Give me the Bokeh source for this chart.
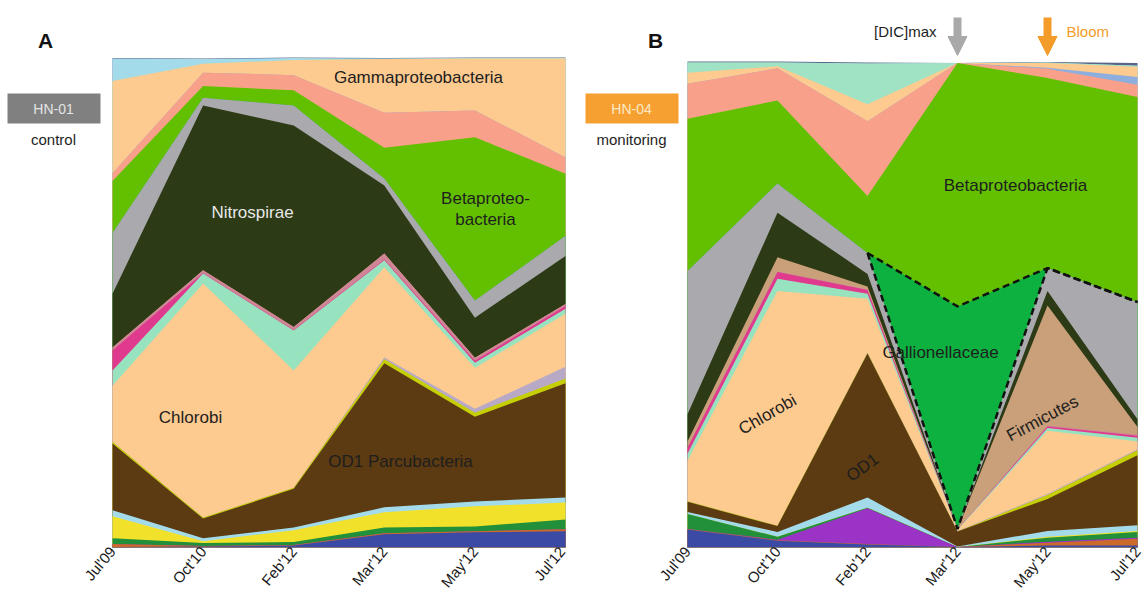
import numpy as np
from bokeh.plotting import figure
from bokeh.layouts import row
from bokeh.models import Range1d, FixedTicker, Label, BoxAnnotation, Arrow, NormalHead
from bokeh.embed import file_html
from bokeh.resources import INLINE

# ---------------- data ----------------
dates = ["Jul'09", "Oct'10", "Feb'12", "Mar'12", "May'12", "Jul'12"]

# layers, bottom -> top (relative abundance, %)
layer_names = ["blue", "orange", "purple", "green", "yellow", "lightblue", "OD1", "yellowgreen",
               "lavender", "Chlorobi", "aqua", "magenta", "pink", "Firmicutes", "Nitrospirae",
               "gray", "Gallionellaceae", "Betaproteobacteria", "salmon", "steelblue",
               "Gammaproteobacteria", "mint", "sky", "slate"]
layer_colors = ["#3b4ba5", "#cc6a2c", "#9b33c7", "#22903a", "#f2e12b", "#a3dbea", "#5c3a12", "#c6cf06",
                "#b8a9c6", "#fdca90", "#97e3bf", "#e03a8f", "#cf8595", "#c9a079", "#2c3a15",
                "#aaa9ad", "#0db13f", "#63c000", "#f9a08a", "#8eaedd",
                "#fdca90", "#a0e2c4", "#a3dbea", "#5a6488"]

# Panel A: HN-01 (control)
A_blue = [0.1, 0.2, 0.4, 2.7, 3.1, 3.3]
A_orange = [0.6, 0.1, 0.1, 0.2, 0.2, 0.4]
A_purple = [0, 0, 0, 0, 0, 0]
A_green = [1.2, 0.6, 0.6, 1.2, 1.0, 2.0]
A_yellow = [4.5, 0.4, 2.4, 3.1, 4.1, 3.5]
A_lightblue = [1.2, 0.6, 0.6, 1.0, 1.0, 1.0]
A_od1 = [13.6, 4.0, 7.9, 29.4, 17.3, 23.3]
A_yellowgreen = [0.4, 0.2, 0.2, 0.8, 0.8, 1.0]
A_lavender = [0, 0, 0, 0.4, 0.8, 2.4]
A_chlorobi = [11.4, 47.8, 23.9, 18.4, 8.4, 10.8]
A_aqua = [3.1, 2.0, 8.2, 1.4, 1.0, 1.0]
A_magenta = [4.1, 0.1, 0.1, 0.2, 0.4, 0.6]
A_pink = [0.6, 0.6, 0.6, 1.2, 0.6, 0.4]
A_firmicutes = [0, 0, 0, 0, 0, 0]
A_nitrospirae = [11.0, 33.6, 41.1, 13.9, 8.2, 9.8]
A_gray = [12.4, 1.6, 4.1, 1.4, 3.5, 4.1]
A_gallionellaceae = [0, 0, 0, 0, 0, 0]
A_betaproteo = [10.6, 2.4, 3.1, 6.3, 33.3, 12.7]
A_salmon = [1.6, 2.7, 3.1, 7.1, 5.5, 3.3]
A_steelblue = [0, 0, 0, 0, 0, 0]
A_gammaproteo = [18.8, 1.8, 3.1, 11.0, 10.6, 20.2]
A_mint = [0, 0, 0, 0, 0, 0]
A_sky = [4.6, 1.0, 0.4, 0.1, 0.1, 0.1]
A_slate = [0.1, 0.1, 0.1, 0.1, 0.1, 0.1]

# Panel B: HN-04 (monitoring)
B_blue = [3.7, 1.4, 0.6, 0.1, 0.4, 0.4]
B_orange = [0.1, 0.1, 0.1, 0.0, 0.6, 1.4]
B_purple = [0, 0.1, 7.4, 0.0, 0.2, 0.2]
B_green = [3.1, 0.6, 0.1, 0.0, 0.8, 1.2]
B_yellow = [0, 0, 0, 0, 0.2, 0.2]
B_lightblue = [0.4, 1.0, 2.1, 0.1, 1.2, 1.2]
B_od1 = [2.1, 1.2, 29.6, 3.1, 6.6, 14.4]
B_yellowgreen = [0.1, 0.1, 0.1, 0.0, 0.8, 1.0]
B_lavender = [0, 0, 0.1, 0.1, 0.2, 0.2]
B_chlorobi = [8.4, 48.3, 11.1, 0.2, 13.0, 1.6]
B_aqua = [1.4, 2.5, 1.0, 0.1, 0.6, 0.8]
B_magenta = [1.2, 1.4, 0.8, 0.0, 0.3, 0.4]
B_pink = [0.1, 0.1, 0.1, 0.0, 0.2, 0.2]
B_firmicutes = [1.2, 2.9, 0.6, 0.0, 24.7, 1.6]
B_nitrospirae = [5.6, 9.2, 2.6, 0.0, 3.0, 1.6]
B_gray = [29.5, 6.0, 4.3, 0.1, 4.7, 24.1]
B_gallionellaceae = [0, 0, 0, 45.8, 0, 0]
B_betaproteo = [31.3, 17.1, 11.7, 50.1, 39.1, 42.2]
B_salmon = [7.2, 6.6, 15.4, 0.0, 1.9, 2.5]
B_steelblue = [0, 0, 0, 0, 0.2, 1.6]
B_gammaproteo = [2.3, 0.4, 3.5, 0.0, 1.0, 2.1]
B_mint = [2.1, 0.8, 8.4, 0, 0.1, 0.2]
B_sky = [0, 0, 0, 0, 0, 0]
B_slate = [0.2, 0.2, 0.2, 0.0, 0.1, 0.6]

A_layers = [A_blue, A_orange, A_purple, A_green, A_yellow, A_lightblue, A_od1, A_yellowgreen,
            A_lavender, A_chlorobi, A_aqua, A_magenta, A_pink, A_firmicutes, A_nitrospirae,
            A_gray, A_gallionellaceae, A_betaproteo, A_salmon, A_steelblue, A_gammaproteo,
            A_mint, A_sky, A_slate]
B_layers = [B_blue, B_orange, B_purple, B_green, B_yellow, B_lightblue, B_od1, B_yellowgreen,
            B_lavender, B_chlorobi, B_aqua, B_magenta, B_pink, B_firmicutes, B_nitrospirae,
            B_gray, B_gallionellaceae, B_betaproteo, B_salmon, B_steelblue, B_gammaproteo,
            B_mint, B_sky, B_slate]

FONT = "Liberation Sans"
FIG_H = 604
BOTTOM = 57          # frame bottom (0 %) lands at y = 547


def make_panel(layers, width, px_left, px_per_unit, px_per_pct):
    frame_h = FIG_H - BOTTOM
    x0 = -px_left / px_per_unit
    x1 = x0 + width / px_per_unit
    y1 = frame_h / px_per_pct
    p = figure(width=width, height=FIG_H, output_backend="svg", toolbar_location=None,
               x_range=Range1d(x0, x1), y_range=Range1d(0, y1),
               min_border_left=0, min_border_right=0, min_border_top=0,
               min_border_bottom=BOTTOM, y_axis_location=None)
    p.outline_line_color = None
    p.grid.visible = False
    p.background_fill_color = "white"
    p.border_fill_color = "white"
    xs = np.arange(len(dates))
    cum = np.cumsum(np.array(layers, dtype=float), axis=0)
    # paint from top layer downward so adjacent areas have no seams
    for k in range(len(layers) - 1, -1, -1):
        p.varea(x=xs, y1=np.zeros(len(xs)), y2=cum[k], fill_color=layer_colors[k])
    ax = p.xaxis[0]
    ax.ticker = FixedTicker(ticks=list(range(len(dates))))
    ax.major_label_overrides = {i: d for i, d in enumerate(dates)}
    ax.major_label_orientation = 0.87
    ax.major_label_text_font = FONT
    ax.major_label_text_font_size = "15px"
    ax.major_label_text_color = "#1a1a1a"
    ax.major_label_standoff = 1
    ax.major_tick_out = 0
    ax.major_tick_in = 0
    ax.axis_line_color = None
    ax.major_tick_line_color = None
    ax.minor_tick_line_color = None
    return p, cum


# geometry helpers (page px -> data) for annotations
def conv(left_px, ppu, ppp):
    return (lambda px: (px - left_px) / ppu), (lambda py: (547 - py) / ppp)


def lab(p, x, y, text, size="17px", color="#1e1e1e", align="center", angle=0.0, bold=False):
    p.add_layout(Label(x=x, y=y, text=text, text_font=FONT, text_font_size=size,
                       text_color=color, text_align=align, text_baseline="middle",
                       angle=angle, text_font_style="bold" if bold else "normal"))


# ---------- Panel A ----------
A_W = 568
pA, cumA = make_panel(A_layers, A_W, 112, 90.6, 4.9)
axA, ayA = conv(112, 90.6, 4.9)
lab(pA, axA(45), ayA(40), "A", size="21px", color="#111111", bold=True)
pA.add_layout(BoxAnnotation(left=axA(7), right=axA(100), top=ayA(93), bottom=ayA(123),
                            fill_color="#808080", fill_alpha=1.0, line_color=None))
lab(pA, axA(53), ayA(108), "HN-01", size="14px", color="#e4e4e4")
lab(pA, axA(53), ayA(139), "control", size="15px", color="#1e1e1e")
lab(pA, axA(418), ayA(77), "Gammaproteobacteria")
lab(pA, axA(252), ayA(212), "Nitrospirae", color="#e8e8e8")
lab(pA, axA(485), ayA(198), "Betaproteo-")
lab(pA, axA(485), ayA(219), "bacteria")
lab(pA, axA(190), ayA(417), "Chlorobi")
lab(pA, axA(400), ayA(461), "OD1 Parcubacteria")

# ---------- Panel B ----------
B_W = 1144 - A_W
pB, cumB = make_panel(B_layers, B_W, 687 - A_W, 90.0, 4.86)
axB, ayB = conv(687, 90.0, 4.86)
lab(pB, axB(655), ayB(40), "B", size="21px", color="#111111", bold=True)
pB.add_layout(BoxAnnotation(left=axB(585), right=axB(678), top=ayB(93), bottom=ayB(123),
                            fill_color="#f6a032", fill_alpha=1.0, line_color=None))
lab(pB, axB(631), ayB(108), "HN-04", size="14px", color="#fde9c6")
lab(pB, axB(631), ayB(139), "monitoring", size="15px", color="#1e1e1e")
lab(pB, axB(936), ayB(31), "[DIC]max", size="15px", color="#1e1e1e", align="right")
lab(pB, axB(1066), ayB(31), "Bloom", size="15px", color="#f39c2a", align="left")

i_mar = dates.index("Mar'12")
i_may = dates.index("May'12")
for idx, col in [(i_mar, "#a9a9a9"), (i_may, "#f39c2a")]:
    pB.add_layout(Arrow(end=NormalHead(size=19, fill_color=col, line_color=col, line_width=1),
                        x_start=idx, y_start=ayB(17), x_end=idx, y_end=ayB(55),
                        line_color=col, line_width=8))

lab(pB, axB(1015), ayB(185), "Betaproteobacteria")
lab(pB, axB(940), ayB(352), "Gallionellaceae")
lab(pB, axB(767), ayB(414), "Chlorobi", angle=0.52)
lab(pB, axB(862), ayB(467), "OD1", angle=0.62)
lab(pB, axB(1042), ayB(418), "Firmicutes", angle=0.49)

# dashed outline of the Gallionellaceae layer
g = layer_names.index("Gallionellaceae")
xs = np.arange(len(dates))
i_feb = dates.index("Feb'12")
pB.line(x=xs[i_feb:], y=cumB[g][i_feb:], line_color="#111111", line_width=2.5, line_dash="7 4")
pB.line(x=xs[i_feb:], y=cumB[g - 1][i_feb:], line_color="#111111", line_width=2.5, line_dash="7 4")

layout = row(pA, pB)
open("out.html", "w").write(file_html(layout, INLINE))
